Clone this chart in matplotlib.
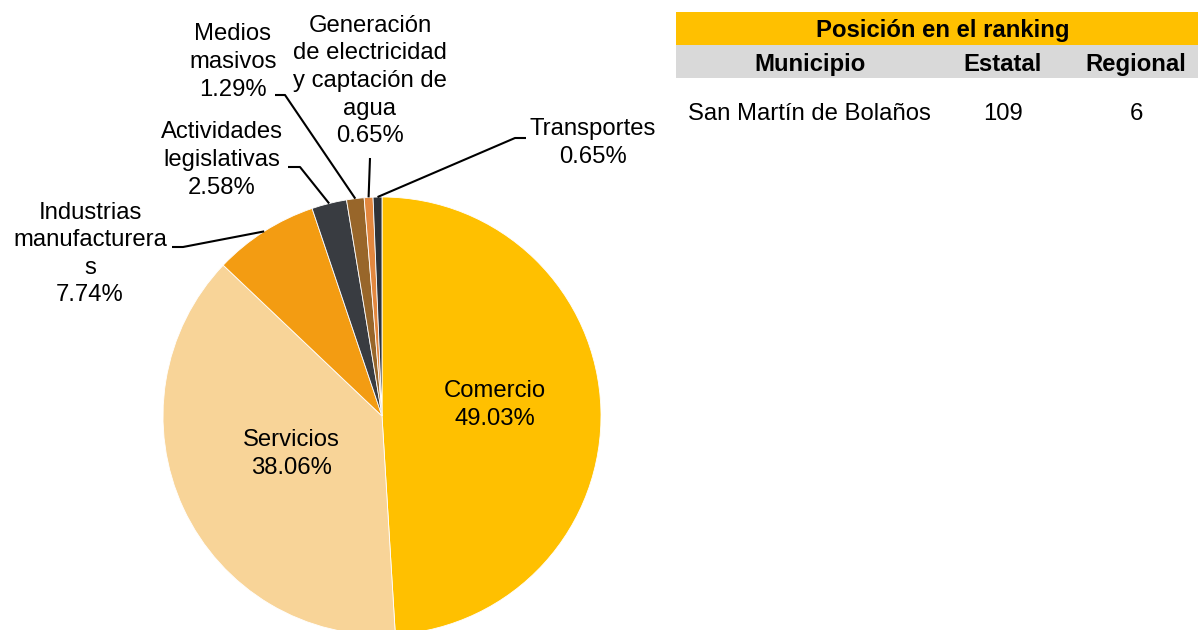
import numpy as np
import matplotlib
matplotlib.use('Agg')
import matplotlib.pyplot as plt
from matplotlib.patches import Rectangle

plt.rcParams['font.family'] = ['Liberation Sans', 'DejaVu Sans']

# Data
labels = ['Comercio', 'Servicios', 'Industrias\nmanufacturera\ns',
          'Actividades\nlegislativas', 'Medios\nmasivos',
          'Generación\nde electricidad\ny captación de\nagua', 'Transportes']
shares = [49.03, 38.06, 7.74, 2.58, 1.29, 0.65, 0.65]
colors = ['#FFC000', '#F8D498', '#F39C12', '#393C41', '#98662A', '#E2873F', '#2E3238']

ranking_title = 'Posición en el ranking'
ranking_cols = ['Municipio', 'Estatal', 'Regional']
municipio = 'San Martín de Bolaños'
rank_estatal = 109
rank_regional = 6

FS = 17.2
LS = 1.33

# Layout (pixel coordinates, y grows downwards)
CENTER = (382, 416)
RADIUS = 219
# inside labels: index -> text center
inside_pos = {0: (495, 405), 1: (291, 454)}
# outside labels: index -> (text center, elbow, line end)
outside_pos = {
    2: ((90, 254), (183, 247), (172, 247)),
    3: ((222, 160), (300, 167), (288, 167)),
    4: ((233, 62), (285, 95), (275, 95)),
    5: ((370, 81), (370, 158), (370, 158)),
    6: ((593, 143), (515, 138), (526, 138)),
}

fig = plt.figure(figsize=(11.98, 6.3), dpi=100)
ax = fig.add_axes([0, 0, 1, 1])

# y axis is inverted below, so start at -90 and go counterclockwise in data
# space, which reads as clockwise from the top on screen
ax.pie(shares, colors=colors, center=CENTER, radius=RADIUS,
       startangle=-90, counterclock=True,
       wedgeprops=dict(edgecolor='white', linewidth=0.6))
ax.set_xlim(0, 1198)
ax.set_ylim(630, 0)
ax.set_aspect('auto')
ax.axis('off')

total = sum(shares)
cum = np.cumsum([0] + shares[:-1])
for i, (lab, v) in enumerate(zip(labels, shares)):
    txt = f'{lab}\n{v:.2f}%'
    if i in inside_pos:
        x, y = inside_pos[i]
        ax.text(x, y, txt, ha='center', va='center', fontsize=FS, linespacing=LS)
        continue
    (tx, ty), elbow, end = outside_pos[i]
    theta = np.deg2rad(-90 + 360 * (cum[i] + v / 2) / total)
    ex = CENTER[0] + RADIUS * np.cos(theta)
    ey = CENTER[1] + RADIUS * np.sin(theta)
    ax.plot([ex, elbow[0], end[0]], [ey, elbow[1], end[1]],
            color='black', lw=1.5, solid_capstyle='butt')
    ax.text(tx, ty, txt, ha='center', va='center', fontsize=FS, linespacing=LS)

# Ranking table
ax.add_patch(Rectangle((676, 12), 522, 33, color='#FFC000', lw=0))
ax.add_patch(Rectangle((676, 45), 522, 33, color='#D9D9D9', lw=0))
ax.text(943, 37, ranking_title, ha='center', va='baseline', fontsize=FS, fontweight='bold')
for name, cx in zip(ranking_cols, [810, 1003, 1136]):
    ax.text(cx, 71, name, ha='center', va='baseline', fontsize=FS, fontweight='bold')
ax.text(688, 120, municipio, ha='left', va='baseline', fontsize=FS)
ax.text(1003, 120, str(rank_estatal), ha='center', va='baseline', fontsize=FS)
ax.text(1136, 120, str(rank_regional), ha='center', va='baseline', fontsize=FS)

fig.savefig('out.png', dpi=100)
